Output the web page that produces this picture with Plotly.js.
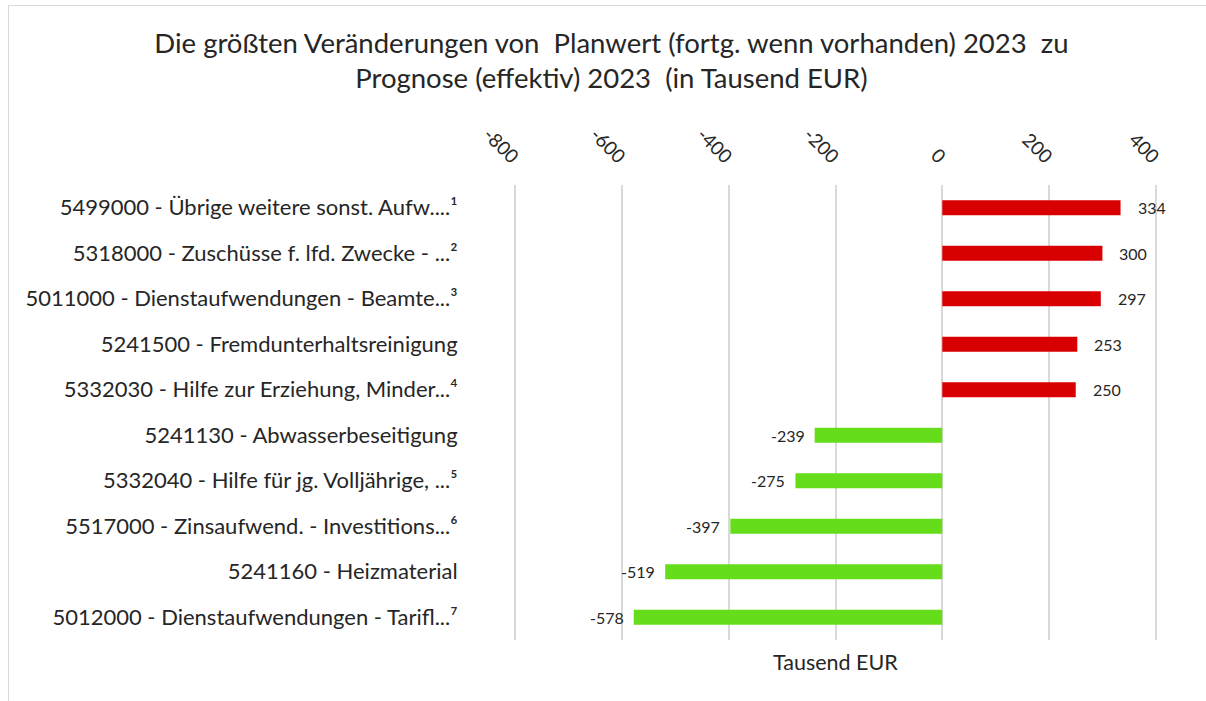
<!DOCTYPE html>
<html>
<head>
<meta charset="utf-8">
<script src="https://cdn.plot.ly/plotly-3.0.1.min.js"></script>
<style>
  body { margin: 0; padding: 0; background: #fff; }
  #wrap { position: relative; width: 1206px; height: 701px; overflow: hidden; }
  #chart { width: 1206px; height: 701px; }
  #frame { position: absolute; left: 8px; top: 5px; width: 1210px; height: 710px; border: 1px solid #d9d9d9; pointer-events: none; }
</style>
</head>
<body>
<div id="wrap"><div id="chart"></div><div id="frame"></div></div>
<script>
const categories = [
  "5499000 - Übrige weitere sonst. Aufw....¹",
  "5318000 - Zuschüsse f. lfd. Zwecke - ...²",
  "5011000 - Dienstaufwendungen - Beamte...³",
  "5241500 - Fremdunterhaltsreinigung",
  "5332030 - Hilfe zur Erziehung, Minder...⁴",
  "5241130 - Abwasserbeseitigung",
  "5332040 - Hilfe für jg. Volljährige, ...⁵",
  "5517000 - Zinsaufwend. - Investitions...⁶",
  "5241160 - Heizmaterial",
  "5012000 - Dienstaufwendungen - Tarifl...⁷"
];
const values = [334, 300, 297, 253, 250, -239, -275, -397, -519, -578];
const xTicks = [-800, -600, -400, -200, 0, 200, 400];
const titleText = "Die größten Veränderungen von\u00a0 Planwert (fortg. wenn vorhanden) 2023\u00a0 zu<br>Prognose (effektiv) 2023\u00a0 (in Tausend EUR)";
const axisTitle = "Tausend EUR";

const posColor = "#d80000";
const negColor = "#65dd1a";
const font = "Lato, 'Open Sans', sans-serif";

const trace = {
  type: "bar",
  orientation: "h",
  x: values,
  y: categories,
  marker: { color: values.map(v => v >= 0 ? posColor : negColor) },
  width: 0.33,
  hoverinfo: "x+y"
};

const annotations = values.map((v, i) => ({
  x: v, y: categories[i], xref: "x", yref: "y",
  text: String(v), showarrow: false,
  xanchor: v >= 0 ? "left" : "right",
  xshift: v >= 0 ? 15 : -8,
  font: { family: font, size: 16, color: "#262626" }
}));
annotations.push({
  x: 0.5, y: 0, xref: "paper", yref: "paper", yanchor: "top", yshift: -7,
  text: axisTitle, showarrow: false,
  font: { family: font, size: 21.5, color: "#262626" }
});

const layout = {
  width: 1206, height: 701,
  margin: { l: 512, r: 47, t: 185, b: 61 },
  paper_bgcolor: "#fff", plot_bgcolor: "#fff",
  title: {
    text: titleText,
    font: { family: font, size: 27.5, color: "#262626" },
    x: 0.507, xanchor: "center",
    y: 0.925, yanchor: "top"
  },
  xaxis: {
    side: "top",
    range: [-806, 406],
    tickvals: xTicks,
    ticktext: xTicks.map(String),
    tickangle: 45,
    ticks: "outside", ticklen: 22, tickcolor: "rgba(0,0,0,0)",
    ticklabelstandoff: -13,
    ticklabelshift: 2,
    tickfont: { family: font, size: 19, color: "#262626" },
    showgrid: true, gridcolor: "#d9d9d9", gridwidth: 2,
    zeroline: true, zerolinecolor: "#d9d9d9", zerolinewidth: 2,
    showline: false, fixedrange: true
  },
  yaxis: {
    type: "category",
    autorange: "reversed",
    ticks: "outside", ticklen: 49, tickcolor: "rgba(0,0,0,0)",
    tickfont: { family: font, size: 22, color: "#262626" },
    showgrid: false, zeroline: false, showline: false, fixedrange: true
  },
  annotations: annotations,
  showlegend: false,
  bargap: 0.67
};

Plotly.newPlot("chart", [trace], layout, { displayModeBar: false, staticPlot: true });
</script>
</body>
</html>
